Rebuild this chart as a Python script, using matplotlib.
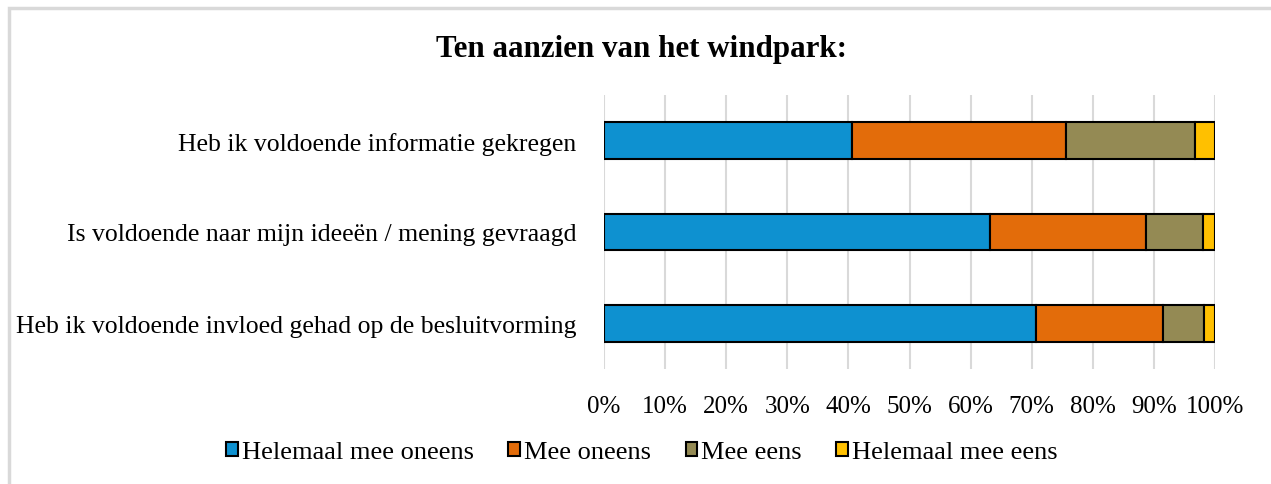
import matplotlib.pyplot as plt
import numpy as np

categories = ['Heb ik voldoende informatie gekregen',
              'Is voldoende naar mijn ideeën / mening gevraagd',
              'Heb ik voldoende invloed gehad op de besluitvorming']
series_names = ['Helemaal mee oneens', 'Mee oneens', 'Mee eens', 'Helemaal mee eens']
helemaal_oneens = [40.6, 63.1, 70.7]
mee_oneens = [35.0, 25.6, 20.8]
mee_eens = [21.2, 9.3, 6.7]
helemaal_eens = [3.2, 2.0, 1.8]
colors = ['#0E91D0', '#E36C0A', '#948A54', '#FFC000']
xticks = [0, 10, 20, 30, 40, 50, 60, 70, 80, 90, 100]

plt.rcParams['font.family'] = ['Liberation Serif', 'DejaVu Serif']

fig = plt.figure(figsize=(12.71, 4.85), dpi=100)
ax = fig.add_axes([604 / 1271, 115 / 485, 611 / 1271, 274 / 485])

y = np.arange(len(categories))[::-1]
left = np.zeros(len(categories))
for name, vals, c in zip(series_names, [helemaal_oneens, mee_oneens, mee_eens, helemaal_eens], colors):
    vals = np.array(vals)
    ax.barh(y, vals, left=left, height=0.4, color=c, edgecolor='black', linewidth=1.5, label=name, zorder=3)
    left += vals

ax.set_xlim(0, 100)
ax.set_ylim(-0.5, 2.5)
ax.set_xticks(xticks)
ax.set_xticklabels([f'{t}%' for t in xticks], fontsize=18)
ax.set_yticks(y)
ax.set_yticklabels(categories, fontsize=18.5)
ax.tick_params(length=0, pad=19, axis='x')
ax.tick_params(length=0, pad=20, axis='y')
ax.grid(axis='x', color='#d9d9d9', linewidth=1.5, zorder=0)
for s in ax.spines.values():
    s.set_visible(False)

fig.text(642 / 1271, 1 - 50 / 485, 'Ten aanzien van het windpark:', ha='center', va='center',
         fontsize=22.3, fontweight='bold')

fig.legend(loc='center', bbox_to_anchor=(642 / 1271, 1 - 453 / 485), ncol=4, frameon=False,
           fontsize=19, handlelength=0.45, handleheight=0.45, handletextpad=0.15, columnspacing=1.3)

fig.patches.append(plt.Rectangle((9 / 1271, -0.1), 1.2, 1 - 9 / 485 + 0.1, transform=fig.transFigure,
                                 fill=False, edgecolor='#d9d9d9', linewidth=2.5))

fig.savefig('out.png', dpi=100)
